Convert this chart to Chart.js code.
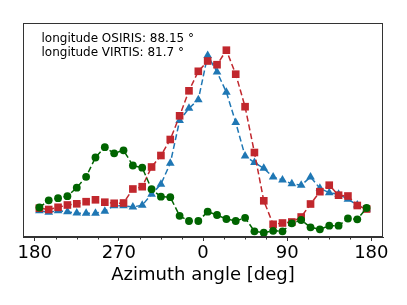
<!DOCTYPE html>
<html>
<head>
<meta charset="utf-8">
<script src="https://cdn.jsdelivr.net/npm/chart.js@4/dist/chart.umd.min.js"></script>
<style>
  html, body { margin: 0; padding: 0; background: #fff; }
  #wrap { width: 407px; height: 305px; }
</style>
</head>
<body>
<div id="wrap"><canvas id="c" width="407" height="305"></canvas></div>
<script>
// ---- data ----
const azimuth = [-175,-165,-155,-145,-135,-125,-115,-105,-95,-85,-75,-65,-55,-45,-35,-25,-15,-5,
                 5,15,25,35,45,55,65,75,85,95,105,115,125,135,145,155,165,175];
const greenSeries = [29.5,36.7,38.8,40.8,49.3,60.2,79.5,89.8,83.7,86.7,71.5,69.3,47.8,40.3,39.8,21.2,16,16,
                     25.3,22,18,16,19.2,5.7,4.3,6.2,5.7,13.7,17,9.7,7.7,11.3,11.3,18.5,17.7,29];
const redSeries = [28.8,27.5,29.7,32,33.2,35.3,37.2,34.8,33.7,34,48,50.3,70,81.5,97.5,121.2,146.2,165.7,
                   176,172.3,186.8,162.8,130.3,84.5,36.2,12.7,14,15,20,33,45.3,51.8,41.8,41,31.5,28];
const blueSeries = [26.3,24.7,26.3,25.2,24,23.7,23.7,25.8,31.3,31.3,30,31.8,42.7,52.8,73.7,116.5,128.7,137.3,
                    181.5,165,144.8,114.5,81,74.5,68.7,60,57,53.3,51.7,60,48.7,44.3,42.8,37.8,32,28];
const majorTicks = [-180, -90, 0, 90, 180];
const minorTicks = [-157.5,-135,-112.5,-67.5,-45,-22.5,22.5,45,67.5,112.5,135,157.5];
const annotationLines = ["longitude OSIRIS: 88.15 \u00B0", "longitude VIRTIS: 81.7 \u00B0"];
const xTitle = "Azimuth angle [deg]";

const FONT = "'DejaVu Sans', sans-serif";
const pts = (arr) => azimuth.map((a, i) => ({ x: a, y: arr[i] }));

const framePlugin = {
  id: 'frame',
  afterDraw(chart) {
    const { ctx, chartArea: a, scales } = chart;
    ctx.save();
    ctx.strokeStyle = '#333';
    ctx.lineWidth = 1;
    ctx.strokeRect(Math.round(a.left) + 0.5, Math.round(a.top) + 0.5,
                   Math.round(a.right - a.left) - 1, Math.round(a.bottom - a.top) - 1);
    const xs = scales.x;
    ctx.beginPath();
    minorTicks.forEach(v => {
      const px = Math.round(xs.getPixelForValue(v)) + 0.5;
      ctx.moveTo(px, a.bottom);
      ctx.lineTo(px, a.bottom + 2.5);
    });
    ctx.stroke();
    ctx.fillStyle = '#000';
    ctx.font = "12px " + FONT;
    ctx.textBaseline = 'middle';
    ctx.textAlign = 'left';
    annotationLines.forEach((t, i) => {
      ctx.fillText(t, a.left + 18.5, a.top + 16 + i * 13.7);
    });
    ctx.restore();
  }
};

new Chart(document.getElementById('c'), {
  type: 'line',
  data: {
    datasets: [
      {
        data: pts(greenSeries),
        borderColor: '#006400', backgroundColor: '#006400',
        pointStyle: 'circle', pointRadius: 3.9, pointBorderWidth: 0,
        borderWidth: 1.5, borderDash: [6, 3], tension: 0
      },
      {
        data: pts(redSeries),
        borderColor: '#c1272d', backgroundColor: '#c1272d',
        pointStyle: 'rect', pointRadius: 5.4, pointBorderWidth: 0,
        borderWidth: 1.5, borderDash: [6, 3], tension: 0
      },
      {
        data: pts(blueSeries),
        borderColor: '#1f77b4', backgroundColor: '#1f77b4',
        pointStyle: 'triangle', pointRadius: 5, pointBorderWidth: 0,
        borderWidth: 1.5, borderDash: [6, 3], tension: 0
      }
    ]
  },
  options: {
    responsive: false,
    animation: false,
    devicePixelRatio: 1,
    layout: { padding: { left: 23, right: 24, top: 23, bottom: 19 } },
    plugins: { legend: { display: false }, tooltip: { enabled: false } },
    scales: {
      x: {
        type: 'linear',
        min: -192.5, max: 192.5,
        afterBuildTicks: (s) => { s.ticks = majorTicks.map(v => ({ value: v })); },
        afterFit: (s) => { s.height = 49; },
        grid: { display: true, drawOnChartArea: false, drawTicks: true, tickLength: 4, tickColor: '#333', color: '#333' },
        border: { display: true, color: '#333', width: 1 },
        ticks: {
          autoSkip: false, maxRotation: 0, minRotation: 0,
          color: '#000', padding: 2,
          font: { family: FONT, size: 18 },
          callback: (v) => String(v < 0 ? v + 360 : v)
        },
        title: {
          display: true, text: xTitle, color: '#000',
          font: { family: FONT, size: 18 }, padding: { top: 0, bottom: 0 }
        }
      },
      y: { display: false, min: 0, max: 214 }
    }
  },
  plugins: [framePlugin]
});
</script>
</body>
</html>
